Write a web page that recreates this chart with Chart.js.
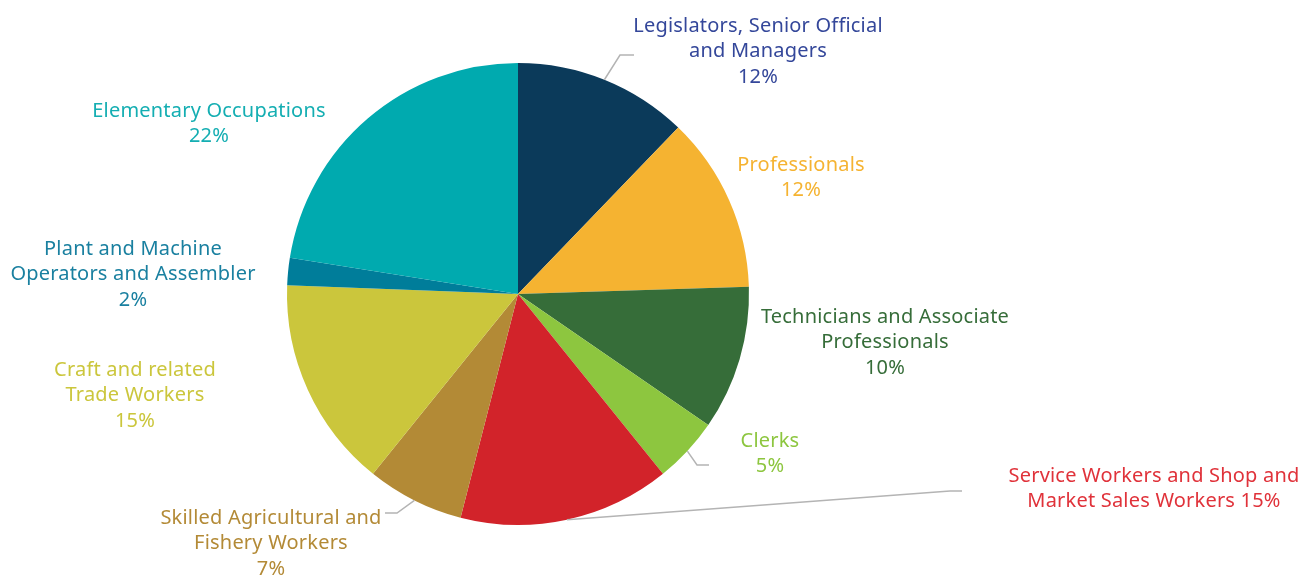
<!DOCTYPE html>
<html>
<head>
<meta charset="utf-8">
<script src="https://cdn.jsdelivr.net/npm/chart.js@4"></script>
<style>
  html, body { margin: 0; padding: 0; background: #fff; }
  #wrap { width: 1303px; height: 576px; position: relative; }
</style>
</head>
<body>
<div id="wrap"><canvas id="pieChart" width="1303" height="576"></canvas></div>
<script>
// Data
const categories = [
  ['Legislators, Senior Official', 'and Managers'],
  ['Professionals'],
  ['Technicians and Associate', 'Professionals'],
  ['Clerks'],
  ['Service Workers and Shop and', 'Market Sales Workers'],
  ['Skilled Agricultural and', 'Fishery Workers'],
  ['Craft and related', 'Trade Workers'],
  ['Plant and Machine', 'Operators and Assembler'],
  ['Elementary Occupations']
];
// slice sizes (percent)
const shares = [12.2, 12.3, 10.1, 4.6, 14.8, 6.8, 14.8, 1.9, 22.5];
// percentages as printed on the labels
const pctLabels = ['12%', '12%', '10%', '5%', '15%', '7%', '15%', '2%', '22%'];
const sliceColors = ['#0B3A5A', '#F5B331', '#366D39', '#8DC63F', '#D2232A', '#B38A36', '#CBC63C', '#007D9A', '#00AAAF'];
const labelColors = ['#34479A', '#F5B331', '#366D39', '#8DC63F', '#E0323A', '#B38A36', '#CBC63C', '#1A80A0', '#14AEB2'];

// Label layout: centre x, first line y, and optional leader elbow [x1,y1,x2,y2]
const labelLayout = [
  { x: 758, y: 25, leader: [620, 55, 634, 55] },
  { x: 801, y: 164 },
  { x: 885, y: 316 },
  { x: 770, y: 440, leader: [697, 465, 709, 465] },
  { x: 1154, y: 475, inline: true, leader: [950, 491, 962, 491] },
  { x: 271, y: 517, leader: [397, 513, 385, 513] },
  { x: 135, y: 369 },
  { x: 133, y: 248 },
  { x: 209, y: 110 }
];

const labelPlugin = {
  id: 'sliceLabels',
  afterDraw(chart) {
    const ctx = chart.ctx;
    const arcs = chart.getDatasetMeta(0).data;
    ctx.save();
    ctx.font = '20px "Noto Sans", sans-serif';
    ctx.letterSpacing = '0.2px';
    ctx.textAlign = 'center';
    ctx.textBaseline = 'middle';
    arcs.forEach((arc, i) => {
      const lay = labelLayout[i];
      if (lay.leader) {
        const mid = (arc.startAngle + arc.endAngle) / 2;
        const sx = arc.x + Math.cos(mid) * arc.outerRadius;
        const sy = arc.y + Math.sin(mid) * arc.outerRadius;
        ctx.strokeStyle = '#B4B4B4';
        ctx.lineWidth = 1.5;
        ctx.beginPath();
        ctx.moveTo(sx, sy);
        ctx.lineTo(lay.leader[0], lay.leader[1]);
        ctx.lineTo(lay.leader[2], lay.leader[3]);
        ctx.stroke();
      }
      const lines = categories[i].slice();
      if (lay.inline) lines[lines.length - 1] += ' ' + pctLabels[i];
      else lines.push(pctLabels[i]);
      ctx.fillStyle = labelColors[i];
      lines.forEach((t, k) => ctx.fillText(t, lay.x, lay.y + 1 + k * 25.5));
    });
    ctx.restore();
  }
};

new Chart(document.getElementById('pieChart').getContext('2d'), {
  type: 'pie',
  data: {
    labels: categories.map(c => c.join(' ')),
    datasets: [{
      data: shares,
      backgroundColor: sliceColors,
      borderWidth: 0
    }]
  },
  options: {
    responsive: false,
    animation: false,
    layout: { padding: { left: 287, right: 554, top: 63, bottom: 51 } },
    plugins: { legend: { display: false }, tooltip: { enabled: false } }
  },
  plugins: [labelPlugin]
});
</script>
</body>
</html>
